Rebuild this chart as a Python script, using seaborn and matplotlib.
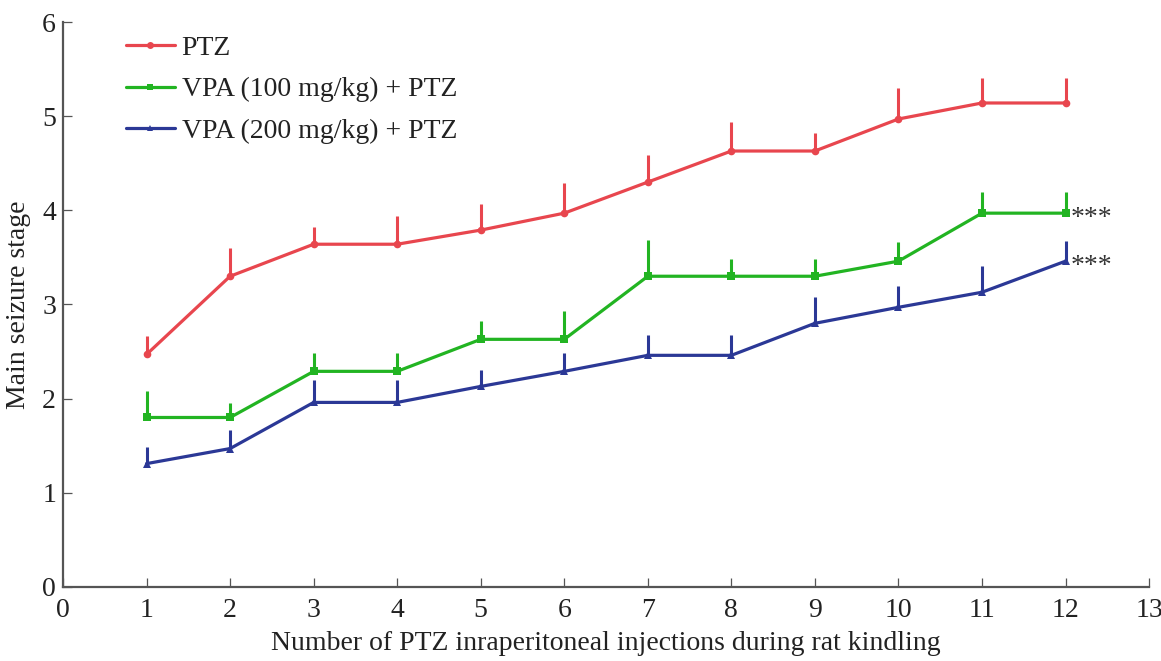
import numpy as np
import pandas as pd
import matplotlib
matplotlib.use("Agg")
import matplotlib.pyplot as plt
import seaborn as sns

injections = list(range(1, 13))
groups = ["PTZ", "VPA (100 mg/kg) + PTZ", "VPA (200 mg/kg) + PTZ"]

ptz_mean = [2.47, 3.30, 3.64, 3.64, 3.79, 3.97, 4.30, 4.63, 4.63, 4.97, 5.14, 5.14]
ptz_err = [0.20, 0.30, 0.18, 0.30, 0.28, 0.32, 0.29, 0.31, 0.19, 0.33, 0.27, 0.27]
vpa100_mean = [1.80, 1.80, 2.29, 2.29, 2.63, 2.63, 3.30, 3.30, 3.30, 3.46, 3.97, 3.97]
vpa100_err = [0.28, 0.15, 0.19, 0.19, 0.19, 0.30, 0.38, 0.18, 0.18, 0.20, 0.22, 0.22]
vpa200_mean = [1.31, 1.47, 1.96, 1.96, 2.13, 2.29, 2.46, 2.46, 2.80, 2.97, 3.13, 3.46]
vpa200_err = [0.18, 0.20, 0.24, 0.24, 0.17, 0.20, 0.22, 0.22, 0.28, 0.23, 0.28, 0.21]

colors = {groups[0]: "#e8464e", groups[1]: "#22b422", groups[2]: "#2b3896"}
markers = {groups[0]: "o", groups[1]: "s", groups[2]: "^"}

df = pd.DataFrame({
    "injection": injections * 3,
    "stage": ptz_mean + vpa100_mean + vpa200_mean,
    "err": ptz_err + vpa100_err + vpa200_err,
    "group": [g for g in groups for _ in injections],
})

sns.set_style("ticks")
plt.rcParams["font.family"] = ["Liberation Serif", "DejaVu Serif"]

fig = plt.figure(figsize=(11.61, 6.61), dpi=100)
ax = fig.add_axes([0.0543, 0.112, 0.9354, 0.8547])

# error bars (upper only, no caps)
for g in groups:
    sub = df[df["group"] == g]
    ax.vlines(sub["injection"], sub["stage"], sub["stage"] + sub["err"],
              color=colors[g], lw=2.2, zorder=2)

sns.lineplot(data=df, x="injection", y="stage", hue="group", style="group",
             palette=colors, markers=markers, dashes=False, lw=2.3,
             markersize=5.5, markeredgewidth=0, ax=ax, zorder=3)

for g, y in [(groups[1], vpa100_mean[-1]), (groups[2], vpa200_mean[-1])]:
    ax.text(12.06, y - 0.13, "***", fontsize=20, va="baseline", ha="left", color="#333333")

ax.set_xlim(0, 13)
ax.set_ylim(0, 6)
ax.set_xticks(range(0, 14))
ax.set_yticks(range(0, 7))
ax.tick_params(labelsize=20, direction="in", length=6.5, width=0.9, color="#555555",
               labelcolor="#222222")
ax.tick_params(axis="y", pad=5)
ax.tick_params(axis="x", pad=8)
for s in ["left", "bottom"]:
    ax.spines[s].set_linewidth(1.6)
    ax.spines[s].set_color("#555555")
sns.despine(ax=ax)
ax.set_xlabel("Number of PTZ inraperitoneal injections during rat kindling", fontsize=20,
              labelpad=6, color="#222222")
ax.set_ylabel("Main seizure stage", fontsize=20, labelpad=8, color="#222222")

leg = ax.legend(loc="upper left", bbox_to_anchor=(0.035, 1.02), frameon=False,
                fontsize=20, handlelength=1.75, handletextpad=0.25, labelspacing=0.57)
for t in leg.get_texts():
    t.set_color("#222222")
for h in leg.legend_handles:
    h.set_markersize(5)

fig.savefig("out.png", dpi=100)
